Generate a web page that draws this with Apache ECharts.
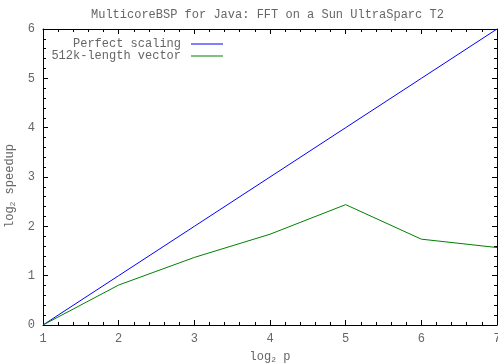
<!DOCTYPE html>
<html>
<head>
<meta charset="utf-8">
<script src="https://cdn.jsdelivr.net/npm/echarts@6/dist/echarts.min.js"></script>
<style>
  html, body { margin: 0; padding: 0; background: #fff; }
  #chart { width: 498px; height: 363px; }
</style>
</head>
<body>
<div id="chart"></div>
<script>
const procs = [1, 2, 3, 4, 5, 6, 7];
const perfect = [0, 1, 2, 3, 4, 5, 6];
const measured = [0, 0.81, 1.37, 1.84, 2.44, 1.74, 1.57];
const seriesNames = ["Perfect scaling", "512k-length vector"];

const font = "'Courier New', 'Liberation Mono', monospace";
const textColor = "#666";

const chart = echarts.init(document.getElementById("chart"));

function axis(pos, showLabels) {
  const horiz = pos === "bottom" || pos === "top";
  return {
    type: "value",
    position: pos,
    min: horiz ? 1 : 0,
    max: horiz ? 7 : 6,
    interval: 1,
    axisLine: { show: true, onZero: false, lineStyle: { color: "#000", width: 1 } },
    axisTick: { show: true, inside: true, length: 5, lineStyle: { color: "#000" } },
    minorTick: { show: true, splitNumber: 5, length: 3, lineStyle: { color: "#000" } },
    splitLine: { show: false },
    axisLabel: {
      show: showLabels,
      margin: 8,
      fontFamily: font,
      fontSize: 12,
      color: textColor,
    },
  };
}

const subStyle = { fontFamily: font, fontSize: 8, color: textColor, verticalAlign: "bottom", padding: [6, 0, 0, 0] };

const xBottom = axis("bottom", true);
xBottom.name = "log{s|2} p";
xBottom.nameLocation = "middle";
xBottom.nameGap = 25;
xBottom.nameTextStyle = { fontFamily: font, fontSize: 12, color: textColor, rich: { s: subStyle } };

const yLeft = axis("left", true);
yLeft.name = "log{s|2} speedup";
yLeft.nameLocation = "middle";
yLeft.nameGap = 26;
yLeft.nameTextStyle = { fontFamily: font, fontSize: 12, color: textColor, padding: [0, 18, 0, 0], rich: { s: subStyle } };

const legendBase = {
  right: 270,
  align: "right",
  itemWidth: 32,
  itemHeight: 8,
  itemGap: 0,
  icon: "path://M0,4 L32,4 L32,5 L0,5 Z",
  textStyle: { fontFamily: font, fontSize: 12, color: textColor, padding: [0, 5, 0, 0] },
};

const option = {
  animation: false,
  title: {
    text: "MulticoreBSP for Java: FFT on a Sun UltraSparc T2",
    left: 86,
    top: 4,
    textStyle: { fontFamily: font, fontSize: 12, fontWeight: "normal", color: textColor },
  },
  grid: { left: 43, right: 1, top: 29, bottom: 38, containLabel: false, outerBoundsMode: "none" },
  legend: [
    Object.assign({ data: [seriesNames[0]], top: 33 }, legendBase),
    Object.assign({ data: [seriesNames[1]], top: 45 }, legendBase),
  ],
  xAxis: [xBottom, axis("top", false)],
  yAxis: [yLeft, axis("right", false)],
  series: [
    {
      name: seriesNames[0],
      type: "line",
      data: procs.map((p, i) => [p, perfect[i]]),
      symbol: "none",
      lineStyle: { color: "#0000ff", width: 1 },
      itemStyle: { color: "#0000ff" },
    },
    {
      name: seriesNames[1],
      type: "line",
      data: procs.map((p, i) => [p, measured[i]]),
      symbol: "none",
      lineStyle: { color: "#008000", width: 1 },
      itemStyle: { color: "#008000" },
    },
  ],
};

chart.setOption(option);
</script>
</body>
</html>
